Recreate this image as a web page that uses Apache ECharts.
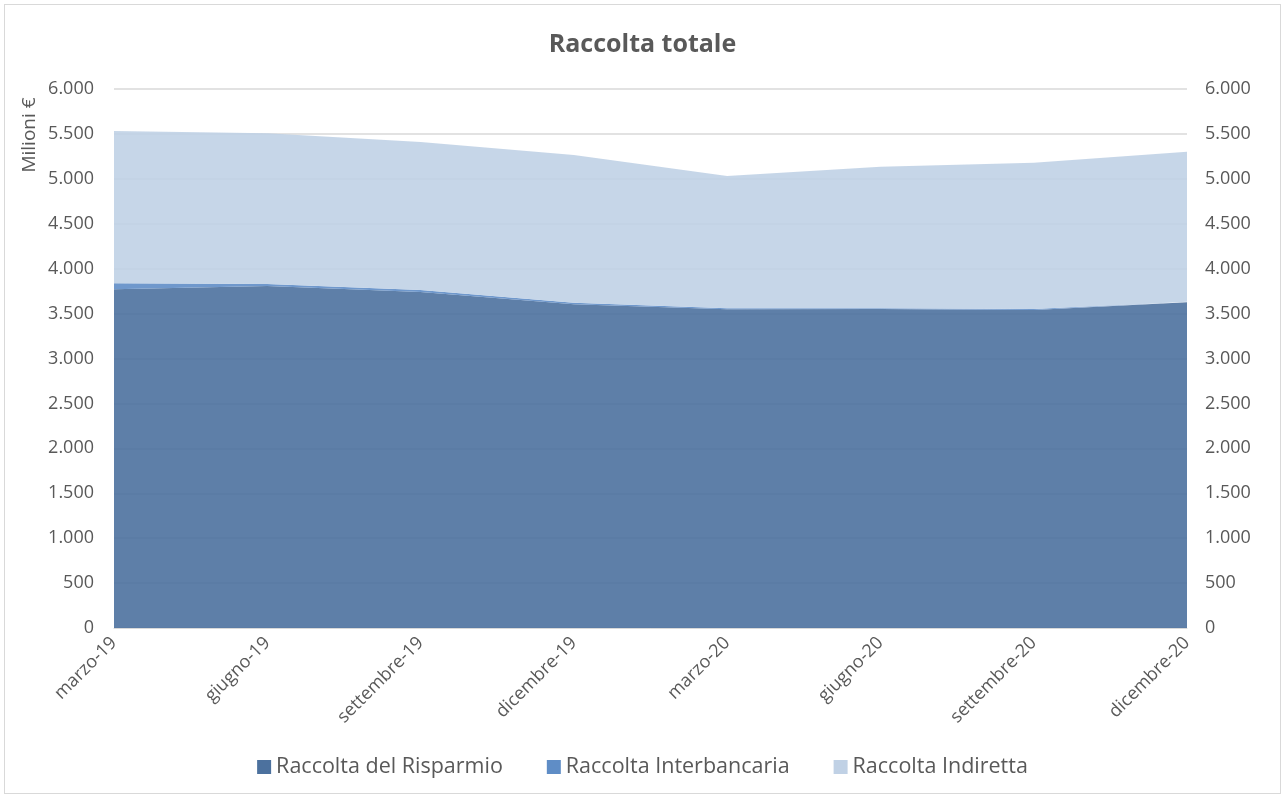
<!DOCTYPE html>
<html>
<head>
<meta charset="utf-8">
<script src="https://cdn.jsdelivr.net/npm/echarts@6/dist/echarts.min.js"></script>
<style>
  html, body { margin: 0; padding: 0; background: #fff; }
  #frame {
    position: absolute; left: 4px; top: 4px;
    width: 1275px; height: 788px;
    border: 1px solid #d9d9d9;
  }
  #chart { position: absolute; left: 0; top: 0; width: 1285px; height: 798px; }
</style>
</head>
<body>
<div id="frame"></div>
<div id="chart"></div>
<script>
// periodi trimestrali
const categories = ['marzo-19', 'giugno-19', 'settembre-19', 'dicembre-19', 'marzo-20', 'giugno-20', 'settembre-20', 'dicembre-20'];
// valori in milioni di euro (stimati dal grafico)
const risparmio = [3770, 3807, 3740, 3603, 3548, 3550, 3540, 3625];
const interbancaria = [67, 22, 22, 18, 10, 10, 10, 8];
const indiretta = [1695, 1678, 1648, 1644, 1474, 1575, 1630, 1669];
const yTicks = { min: 0, max: 6000, step: 500 };

const fmt = (v) => String(v).replace(/\B(?=(\d{3})+(?!\d))/g, '.');
const txt = '#595959';

const areaSeries = (name, values, color) => ({
  name,
  type: 'line',
  stack: 'totale',
  data: values,
  symbol: 'none',
  showSymbol: false,
  lineStyle: { width: 0 },
  itemStyle: { color },
  areaStyle: { color, opacity: 0.9 },
  emphasis: { disabled: true },
});

const chart = echarts.init(document.getElementById('chart'));
chart.setOption({
  animation: false,
  title: {
    text: 'Raccolta totale',
    left: 'center',
    top: 27,
    textStyle: { fontFamily: 'Open Sans', fontSize: 25, fontWeight: 'bold', color: txt },
  },
  grid: { left: 114, right: 98, top: 89, bottom: 170 },
  legend: {
    bottom: 15,
    left: 'center',
    icon: 'rect',
    itemWidth: 14,
    itemHeight: 14,
    itemGap: 44,
    textStyle: { fontFamily: 'Open Sans', fontSize: 21.5, color: txt },
    data: ['Raccolta del Risparmio', 'Raccolta Interbancaria', 'Raccolta Indiretta'],
  },
  graphic: [{
    type: 'text',
    x: 30,
    y: 135,
    rotation: Math.PI / 2,
    style: {
      text: 'Milioni €',
      fontFamily: 'Open Sans',
      fontSize: 19,
      fill: txt,
      align: 'center',
      verticalAlign: 'middle',
    },
  }],
  xAxis: {
    type: 'category',
    boundaryGap: false,
    data: categories,
    axisTick: { show: false },
    axisLine: { lineStyle: { color: '#d9d9d9' } },
    axisLabel: { rotate: 45, fontFamily: 'Open Sans', fontSize: 18, color: txt, margin: 12 },
  },
  yAxis: [
    {
      type: 'value',
      min: yTicks.min,
      max: yTicks.max,
      interval: yTicks.step,
      axisLine: { show: false },
      axisTick: { show: false },
      splitLine: { lineStyle: { color: '#d9d9d9', width: 1.5 } },
      axisLabel: { formatter: fmt, fontFamily: 'Open Sans', fontSize: 18, color: txt, margin: 20 },
    },
    {
      type: 'value',
      position: 'right',
      min: yTicks.min,
      max: yTicks.max,
      interval: yTicks.step,
      axisLine: { show: false },
      axisTick: { show: false },
      splitLine: { show: false },
      axisLabel: { formatter: fmt, fontFamily: 'Open Sans', fontSize: 18, color: txt, margin: 18 },
    },
  ],
  series: [
    areaSeries('Raccolta del Risparmio', risparmio, 'rgb(76,113,158)'),
    areaSeries('Raccolta Interbancaria', interbancaria, 'rgb(95,141,198)'),
    areaSeries('Raccolta Indiretta', indiretta, 'rgb(192,209,229)'),
  ],
});
</script>
</body>
</html>
